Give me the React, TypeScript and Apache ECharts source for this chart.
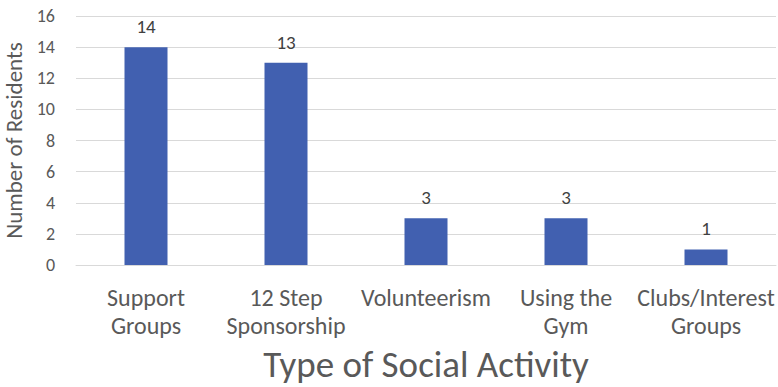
import React, { useEffect, useRef } from "react";
import * as echarts from "echarts";

const categories = ["Support\nGroups", "12 Step\nSponsorship", "Volunteerism", "Using the\nGym", "Clubs/Interest\nGroups"];
const residents = [14, 13, 3, 3, 1];
const yTicks = { min: 0, max: 16, interval: 2 };
const xTitle = "Type of Social Activity";
const yTitle = "Number of Residents";

const FONT = "Carlito, Lato, 'Open Sans', sans-serif";

export default function App() {
  const ref = useRef<HTMLDivElement>(null);
  useEffect(() => {
    if (!ref.current) return;
    const chart = echarts.init(ref.current, null, { renderer: "svg" });
    chart.setOption({
      animation: false,
      backgroundColor: "#ffffff",
      title: {
        text: xTitle,
        left: 426,
        textAlign: "center",
        top: 346,
        padding: 0,
        textStyle: { fontFamily: FONT, fontSize: 37, fontWeight: "normal", color: "#595959" },
      },
      grid: { left: 76, right: 2, top: 16, bottom: 122, containLabel: false, outerBoundsMode: "none" },
      xAxis: {
        type: "category",
        data: categories,
        axisLine: { lineStyle: { color: "#d9d9d9", width: 1 } },
        axisTick: { show: false },
        axisLabel: {
          color: "#595959",
          fontFamily: FONT,
          fontSize: 24,
          lineHeight: 28,
          margin: 18,
          interval: 0,
        },
      },
      yAxis: {
        type: "value",
        min: yTicks.min,
        max: yTicks.max,
        interval: yTicks.interval,
        name: yTitle,
        nameLocation: "middle",
        nameRotate: 90,
        nameGap: 49,
        nameTextStyle: { color: "#595959", fontFamily: FONT, fontSize: 23 },
        axisLine: { show: false },
        axisTick: { show: false },
        axisLabel: { color: "#595959", fontFamily: FONT, fontSize: 18, margin: 21 },
        splitLine: { lineStyle: { color: "#d9d9d9", width: 1 } },
      },
      series: [
        {
          type: "bar",
          data: residents,
          barWidth: 43,
          itemStyle: { color: "#4160b0" },
          label: {
            show: true,
            position: "top",
            distance: 11,
            color: "#404040",
            fontFamily: FONT,
            fontSize: 19,
          },
        },
      ],
    });
    return () => chart.dispose();
  }, []);
  return <div ref={ref} style={{ position: "absolute", left: 0, top: 0, width: 778, height: 387 }} />;
}
